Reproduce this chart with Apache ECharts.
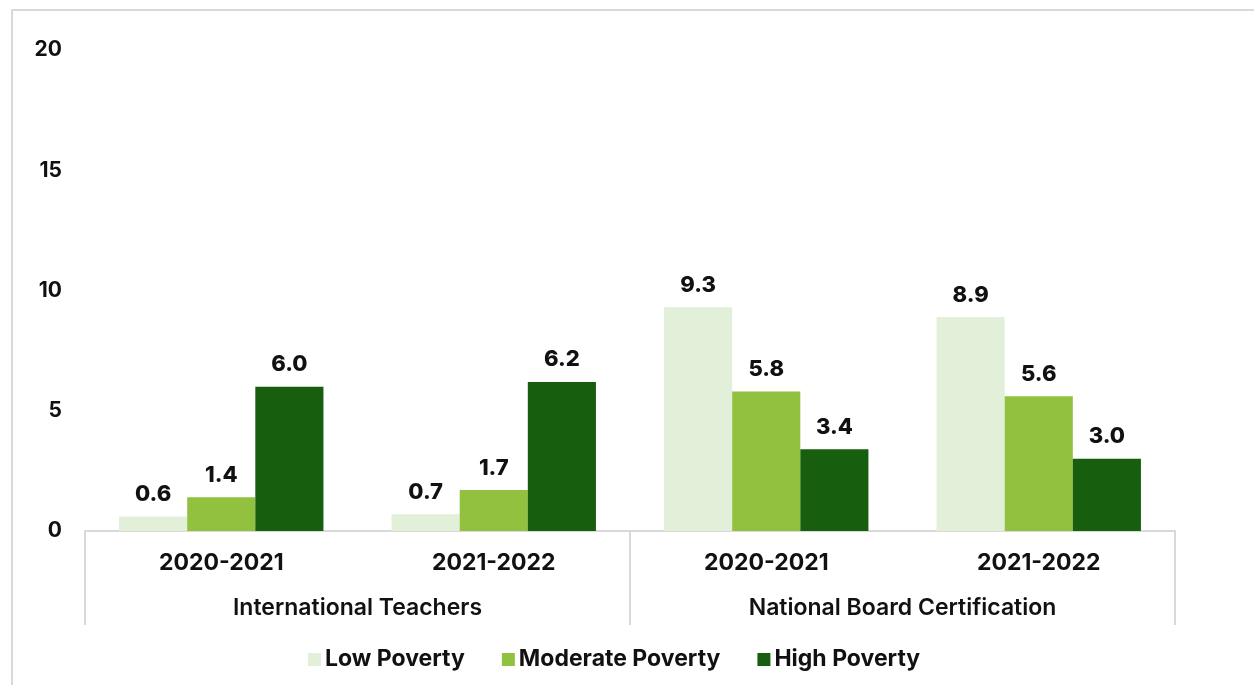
<!DOCTYPE html>
<html>
<head>
<meta charset="utf-8">
<script src="https://cdn.jsdelivr.net/npm/echarts@6/dist/echarts.min.js"></script>
<style>
  html, body { margin: 0; padding: 0; background: #fff; }
  #frame { position: absolute; left: 11px; top: 9px; width: 1260px; height: 700px;
           border-left: 2px solid #d9d9d9; border-top: 2px solid #d9d9d9; }
  #chart { position: absolute; left: 0; top: 0; width: 1254px; height: 685px; }
</style>
</head>
<body>
<div id="frame"></div>
<div id="chart"></div>
<script>
// School years within each measure, and the measure groups
const years = ['2020-2021', '2021-2022', '2020-2021', '2021-2022'];
const groups = ['International Teachers', 'National Board Certification'];
const seriesNames = ['Low Poverty', 'Moderate Poverty', 'High Poverty'];

// Percent values per poverty level
const lowPoverty = [0.6, 0.7, 9.3, 8.9];
const moderatePoverty = [1.4, 1.7, 5.8, 5.6];
const highPoverty = [6.0, 6.2, 3.4, 3.0];

const yTicks = { min: 0, max: 20, interval: 5 };
const colors = ['#e2efd9', '#92c13f', '#175e0f'];

const FONT = 'Inter, "Noto Sans", sans-serif';
const chart = echarts.init(document.getElementById('chart'), null, { renderer: 'canvas' });

const labelStyle = {
  show: true,
  position: 'top',
  distance: 11,
  fontFamily: FONT,
  fontSize: 22,
  fontWeight: 800,
  color: '#111',
  formatter: p => p.value.toFixed(1)
};

function bar(name, data, color) {
  return {
    name: name,
    type: 'bar',
    data: data,
    xAxisIndex: 0,
    barGap: '0%',
    barCategoryGap: '25%',
    itemStyle: { color: color },
    label: labelStyle
  };
}

chart.setOption({
  animation: false,
  grid: { left: 85, right: 79, top: 50, bottom: 154, containLabel: false },
  legend: {
    data: seriesNames,
    bottom: 9,
    left: 303,
    itemWidth: 13,
    itemHeight: 13,
    itemGap: 37,
    icon: 'rect',
    textStyle: { fontFamily: FONT, fontSize: 23, fontWeight: 700, color: '#111', padding: [0, 0, 0, -1] }
  },
  xAxis: [
    {
      type: 'category',
      data: years,
      position: 'bottom',
      axisLine: { show: true, lineStyle: { color: '#d9d9d9', width: 2 } },
      axisTick: { show: false },
      axisLabel: { margin: 21, fontFamily: FONT, fontSize: 23, fontWeight: 700, color: '#111' }
    },
    {
      type: 'category',
      data: groups,
      position: 'bottom',
      axisLine: { show: false },
      axisTick: { show: true, length: 94, lineStyle: { color: '#d9d9d9', width: 2 } },
      axisLabel: { margin: 66, fontFamily: FONT, fontSize: 23, fontWeight: 600, color: '#111' }
    }
  ],
  yAxis: {
    type: 'value',
    min: yTicks.min,
    max: yTicks.max,
    interval: yTicks.interval,
    axisLine: { show: false },
    axisTick: { show: false },
    splitLine: { show: false },
    axisLabel: { margin: 23, fontFamily: FONT, fontSize: 21, fontWeight: 700, color: '#111' }
  },
  series: [
    bar(seriesNames[0], lowPoverty, colors[0]),
    bar(seriesNames[1], moderatePoverty, colors[1]),
    bar(seriesNames[2], highPoverty, colors[2])
  ]
});
</script>
</body>
</html>
